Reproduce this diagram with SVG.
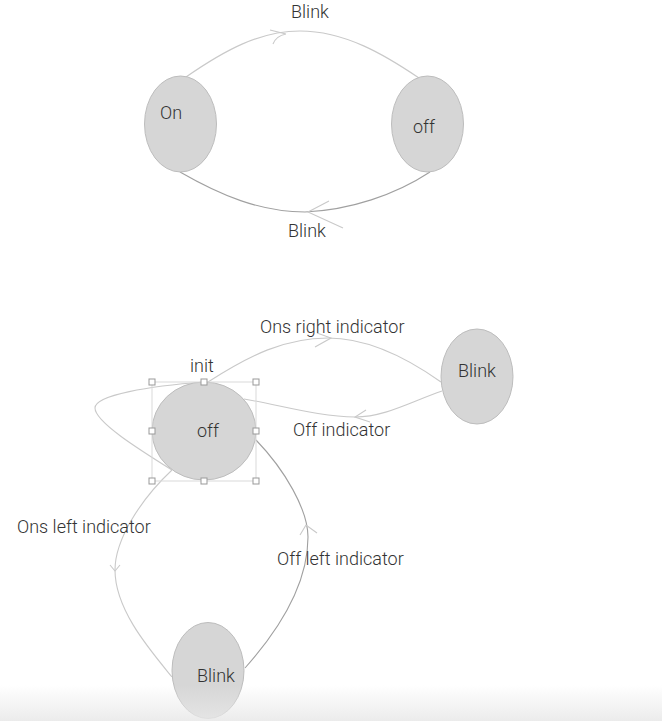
<svg xmlns="http://www.w3.org/2000/svg" width="662" height="721" viewBox="0 0 662 721">
<defs>
<style>
.node{fill:#d6d6d6;stroke:#bdbdbd;stroke-width:1}
.lbl{font-family:Roboto,"Liberation Sans",sans-serif;font-weight:300;font-size:18px;fill:#333}
.edge{fill:none;stroke:#c9c9c9;stroke-width:1.1}
.edge.dark{stroke:#a0a0a0}
.handle{fill:#fff;stroke:#999;stroke-width:1}
.sel{fill:none;stroke:#d9d9d9;stroke-width:1}
</style>
<linearGradient id="fade" x1="0" y1="0" x2="0" y2="1">
<stop offset="0" stop-color="#e8e8e8" stop-opacity="0"/>
<stop offset="1" stop-color="#e8e8e8" stop-opacity="0.85"/>
</linearGradient>
</defs>
<rect width="662" height="721" fill="#fff"/>
<g id="connectors">
<path class="edge" d="M186,77 C225,50 260,31 300,31 C345,31 385,55 419,78"/>
<path class="edge" d="M270,30 L286,34 M273,44 Q276,36 286,34"/>
<path class="edge dark" d="M180,172 C220,195 260,212 305,212 C350,210 395,195 430,172"/>
<path class="edge" d="M329,201 L308,212 L343,228"/>
<path class="edge" d="M208,382 C250,355 285,338 328,338 C370,338 410,360 441,382"/>
<path class="edge" d="M317,333 L331,338 L315,347"/>
<path class="edge" d="M442,391 C410,402 385,417 355,417 C320,417 280,405 244,399"/>
<path class="edge" d="M366,410 L355,417 L370,422"/>
<path class="edge" d="M204,382 C150,386 95,395 95,408 C95,422 140,450 172,470"/>
<path class="edge" d="M172,470 C140,500 115,540 115,570 C115,610 150,650 172,677"/>
<path class="edge" d="M110,565 L115,571 L120,565"/>
<path class="edge dark" d="M256,440 C285,470 308,510 308,537 C308,590 270,640 245,668"/>
<path class="edge" d="M300,535 L306,525 L317,533"/>
</g>
<text class="lbl" x="291" y="18">Blink</text>
<text class="lbl" x="288" y="237">Blink</text>
<text class="lbl" x="260" y="333">Ons right indicator</text>
<text class="lbl" x="293" y="436">Off indicator</text>
<text class="lbl" x="190" y="372">init</text>
<text class="lbl" x="17" y="533">Ons left indicator</text>
<text class="lbl" x="277" y="565">Off left indicator</text>
<g id="node-on">
<ellipse class="node" cx="180.5" cy="124" rx="36" ry="48"/>
<text class="lbl" x="160" y="119">On</text>
</g>
<g id="node-off-top">
<ellipse class="node" cx="427.5" cy="124" rx="36" ry="48"/>
<text class="lbl" x="413" y="133">off</text>
</g>
<g id="node-off">
<ellipse class="node" cx="204" cy="431" rx="52" ry="49"/>
<text class="lbl" x="197" y="437">off</text>
<rect class="sel" x="152" y="382" width="104" height="99"/>
<rect class="handle" x="149" y="379" width="6" height="6"/>
<rect class="handle" x="201" y="379" width="6" height="6"/>
<rect class="handle" x="253" y="379" width="6" height="6"/>
<rect class="handle" x="149" y="428" width="6" height="6"/>
<rect class="handle" x="253" y="428" width="6" height="6"/>
<rect class="handle" x="149" y="478" width="6" height="6"/>
<rect class="handle" x="201" y="478" width="6" height="6"/>
<rect class="handle" x="253" y="478" width="6" height="6"/>
</g>
<g id="node-blink-right">
<ellipse class="node" cx="477" cy="376.5" rx="36" ry="47.5"/>
<text class="lbl" x="458" y="377">Blink</text>
</g>
<g id="node-blink-bottom">
<ellipse class="node" cx="208" cy="670.5" rx="36" ry="48"/>
<text class="lbl" x="197" y="682">Blink</text>
</g>
<rect x="0" y="685" width="662" height="36" fill="url(#fade)"/>
</svg>
